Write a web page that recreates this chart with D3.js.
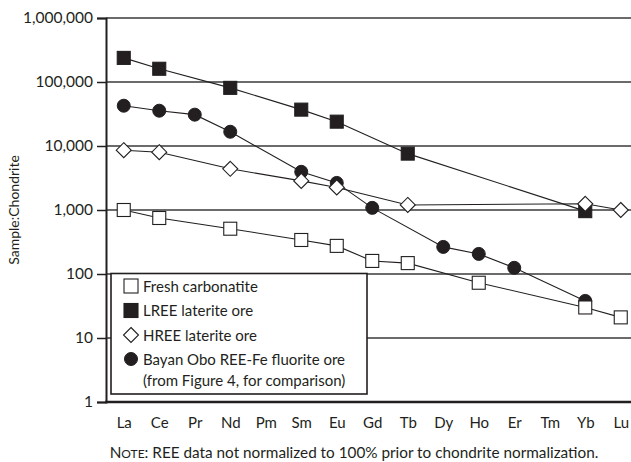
<!DOCTYPE html>
<html><head><meta charset="utf-8">
<script src="https://cdn.jsdelivr.net/npm/d3@7"></script>
<style>body{margin:0;background:#fff}svg{display:block}text{font-family:Lato,"Noto Sans",sans-serif;fill:#231f20}</style>
</head><body><svg id="c" width="631" height="462"></svg>
<script>
const elements = ["La","Ce","Pr","Nd","Pm","Sm","Eu","Gd","Tb","Dy","Ho","Er","Tm","Yb","Lu"];
const yTicks = [1,10,100,1000,10000,100000,1000000];
const freshCarbonatite = [1000,750,null,510,null,340,275,160,148,null,73,null,null,30,21];
const lreeLaterite = [238000,161000,null,81000,null,37000,24000,null,7600,null,null,null,null,960,null];
const hreeLaterite = [8600,8000,null,4400,null,2850,2250,null,1200,null,null,null,null,1250,1000];
const bayanObo = [42600,35600,30900,16700,null,3950,2650,1080,null,265,206,125,null,38,null];
const legendLabels = ["Fresh carbonatite","LREE laterite ore","HREE laterite ore","Bayan Obo REE-Fe fluorite ore","(from Figure 4, for comparison)"];

const svg = d3.select("#c");
const L=106, T=18, B=402, R=631, step=35.5;
const FF="Lato,'Noto Sans',sans-serif";
const x = d3.scalePoint().domain(elements).range([L+step/2, L+step*14.5]);
const y = d3.scaleLog().domain([1,1000000]).range([B,T]);
const dark="#231f20";

// gridlines
svg.append("g").selectAll("line").data(yTicks.slice(1)).join("line")
  .attr("x1",L).attr("x2",R).attr("y1",d=>y(d)).attr("y2",d=>y(d))
  .attr("stroke","#3a3a3a").attr("stroke-width",1.4);

// y axis
const yAx = svg.append("g").attr("transform",`translate(${L},0)`)
  .call(d3.axisLeft(y).tickValues(yTicks).tickFormat(d3.format(",")).tickSize(9).tickPadding(4));
yAx.select(".domain").attr("stroke",dark).attr("stroke-width",2);
yAx.selectAll(".tick line").attr("stroke",dark).attr("stroke-width",1.5);
yAx.selectAll(".tick text").attr("font-size",15.5).style("font-family",FF).attr("fill",dark);

// x axis line
svg.append("line").attr("x1",L-1).attr("x2",R).attr("y1",B).attr("y2",B).attr("stroke",dark).attr("stroke-width",2.5);
const xAx = svg.append("g").attr("transform",`translate(0,${B})`)
  .call(d3.axisBottom(x).tickSize(0).tickPadding(15));
xAx.select(".domain").remove();
xAx.selectAll(".tick text").attr("font-size",15).style("font-family",FF).attr("fill",dark);

// axis title
svg.append("text").attr("transform","translate(19,210) rotate(-90)").attr("text-anchor","middle")
  .attr("font-size",14).text("Sample:Chondrite");

// note
const note = svg.append("text").attr("x",354).attr("y",458).attr("text-anchor","middle").attr("font-size",15.3);
note.append("tspan").text("N");
note.append("tspan").attr("font-size",12).text("OTE");
note.append("tspan").text(": REE data not normalized to 100% prior to chondrite normalization.");

const series = [
  {vals:bayanObo, shape:"circle", fill:dark},
  {vals:lreeLaterite, shape:"square", fill:dark},
  {vals:hreeLaterite, shape:"diamond", fill:"#fff"},
  {vals:freshCarbonatite, shape:"square", fill:"#fff"}
];
const pts = s => elements.map((e,i)=>({e,v:s.vals[i]})).filter(d=>d.v!=null);
const line = d3.line().x(d=>x(d.e)).y(d=>y(d.v));
series.forEach(s=>{
  svg.append("path").attr("d",line(pts(s))).attr("fill","none").attr("stroke",dark).attr("stroke-width",1.1);
});
function marker(g, shape, fill, cx, cy){
  if(shape==="circle") g.append("circle").attr("cx",cx).attr("cy",cy).attr("r",6.5).attr("fill",fill).attr("stroke",dark).attr("stroke-width",1);
  else if(shape==="square") g.append("rect").attr("x",cx-6.5).attr("y",cy-6.5).attr("width",13).attr("height",13).attr("fill",fill).attr("stroke",dark).attr("stroke-width",1.1);
  else g.append("path").attr("d",`M${cx},${cy-7.5}L${cx+7.5},${cy}L${cx},${cy+7.5}L${cx-7.5},${cy}Z`).attr("fill",fill).attr("stroke",dark).attr("stroke-width",1.1);
}
series.forEach(s=>{
  const g=svg.append("g");
  pts(s).forEach(d=>marker(g,s.shape,s.fill,x(d.e),y(d.v)));
});

// legend
const lg = svg.append("g");
lg.append("rect").attr("x",111).attr("y",273.5).attr("width",256).attr("height",120.5).attr("fill","#fff").attr("stroke",dark).attr("stroke-width",1.6);
const legShapes=[["square","#fff"],["square",dark],["diamond","#fff"],["circle",dark]];
const legY=[286,310.5,335,359,380];
legendLabels.forEach((t,i)=>{
  if(i<4){
    if(legShapes[i][0]==="square"){
      lg.append("rect").attr("x",124).attr("y",legY[i]-7).attr("width",14).attr("height",14).attr("fill",legShapes[i][1]).attr("stroke",dark).attr("stroke-width",1.1);
    } else marker(lg,legShapes[i][0],legShapes[i][1],131,legY[i]);
  }
  lg.append("text").attr("x",143).attr("y",legY[i]+5.5).attr("font-size",15).text(t);
});
</script></body></html>
